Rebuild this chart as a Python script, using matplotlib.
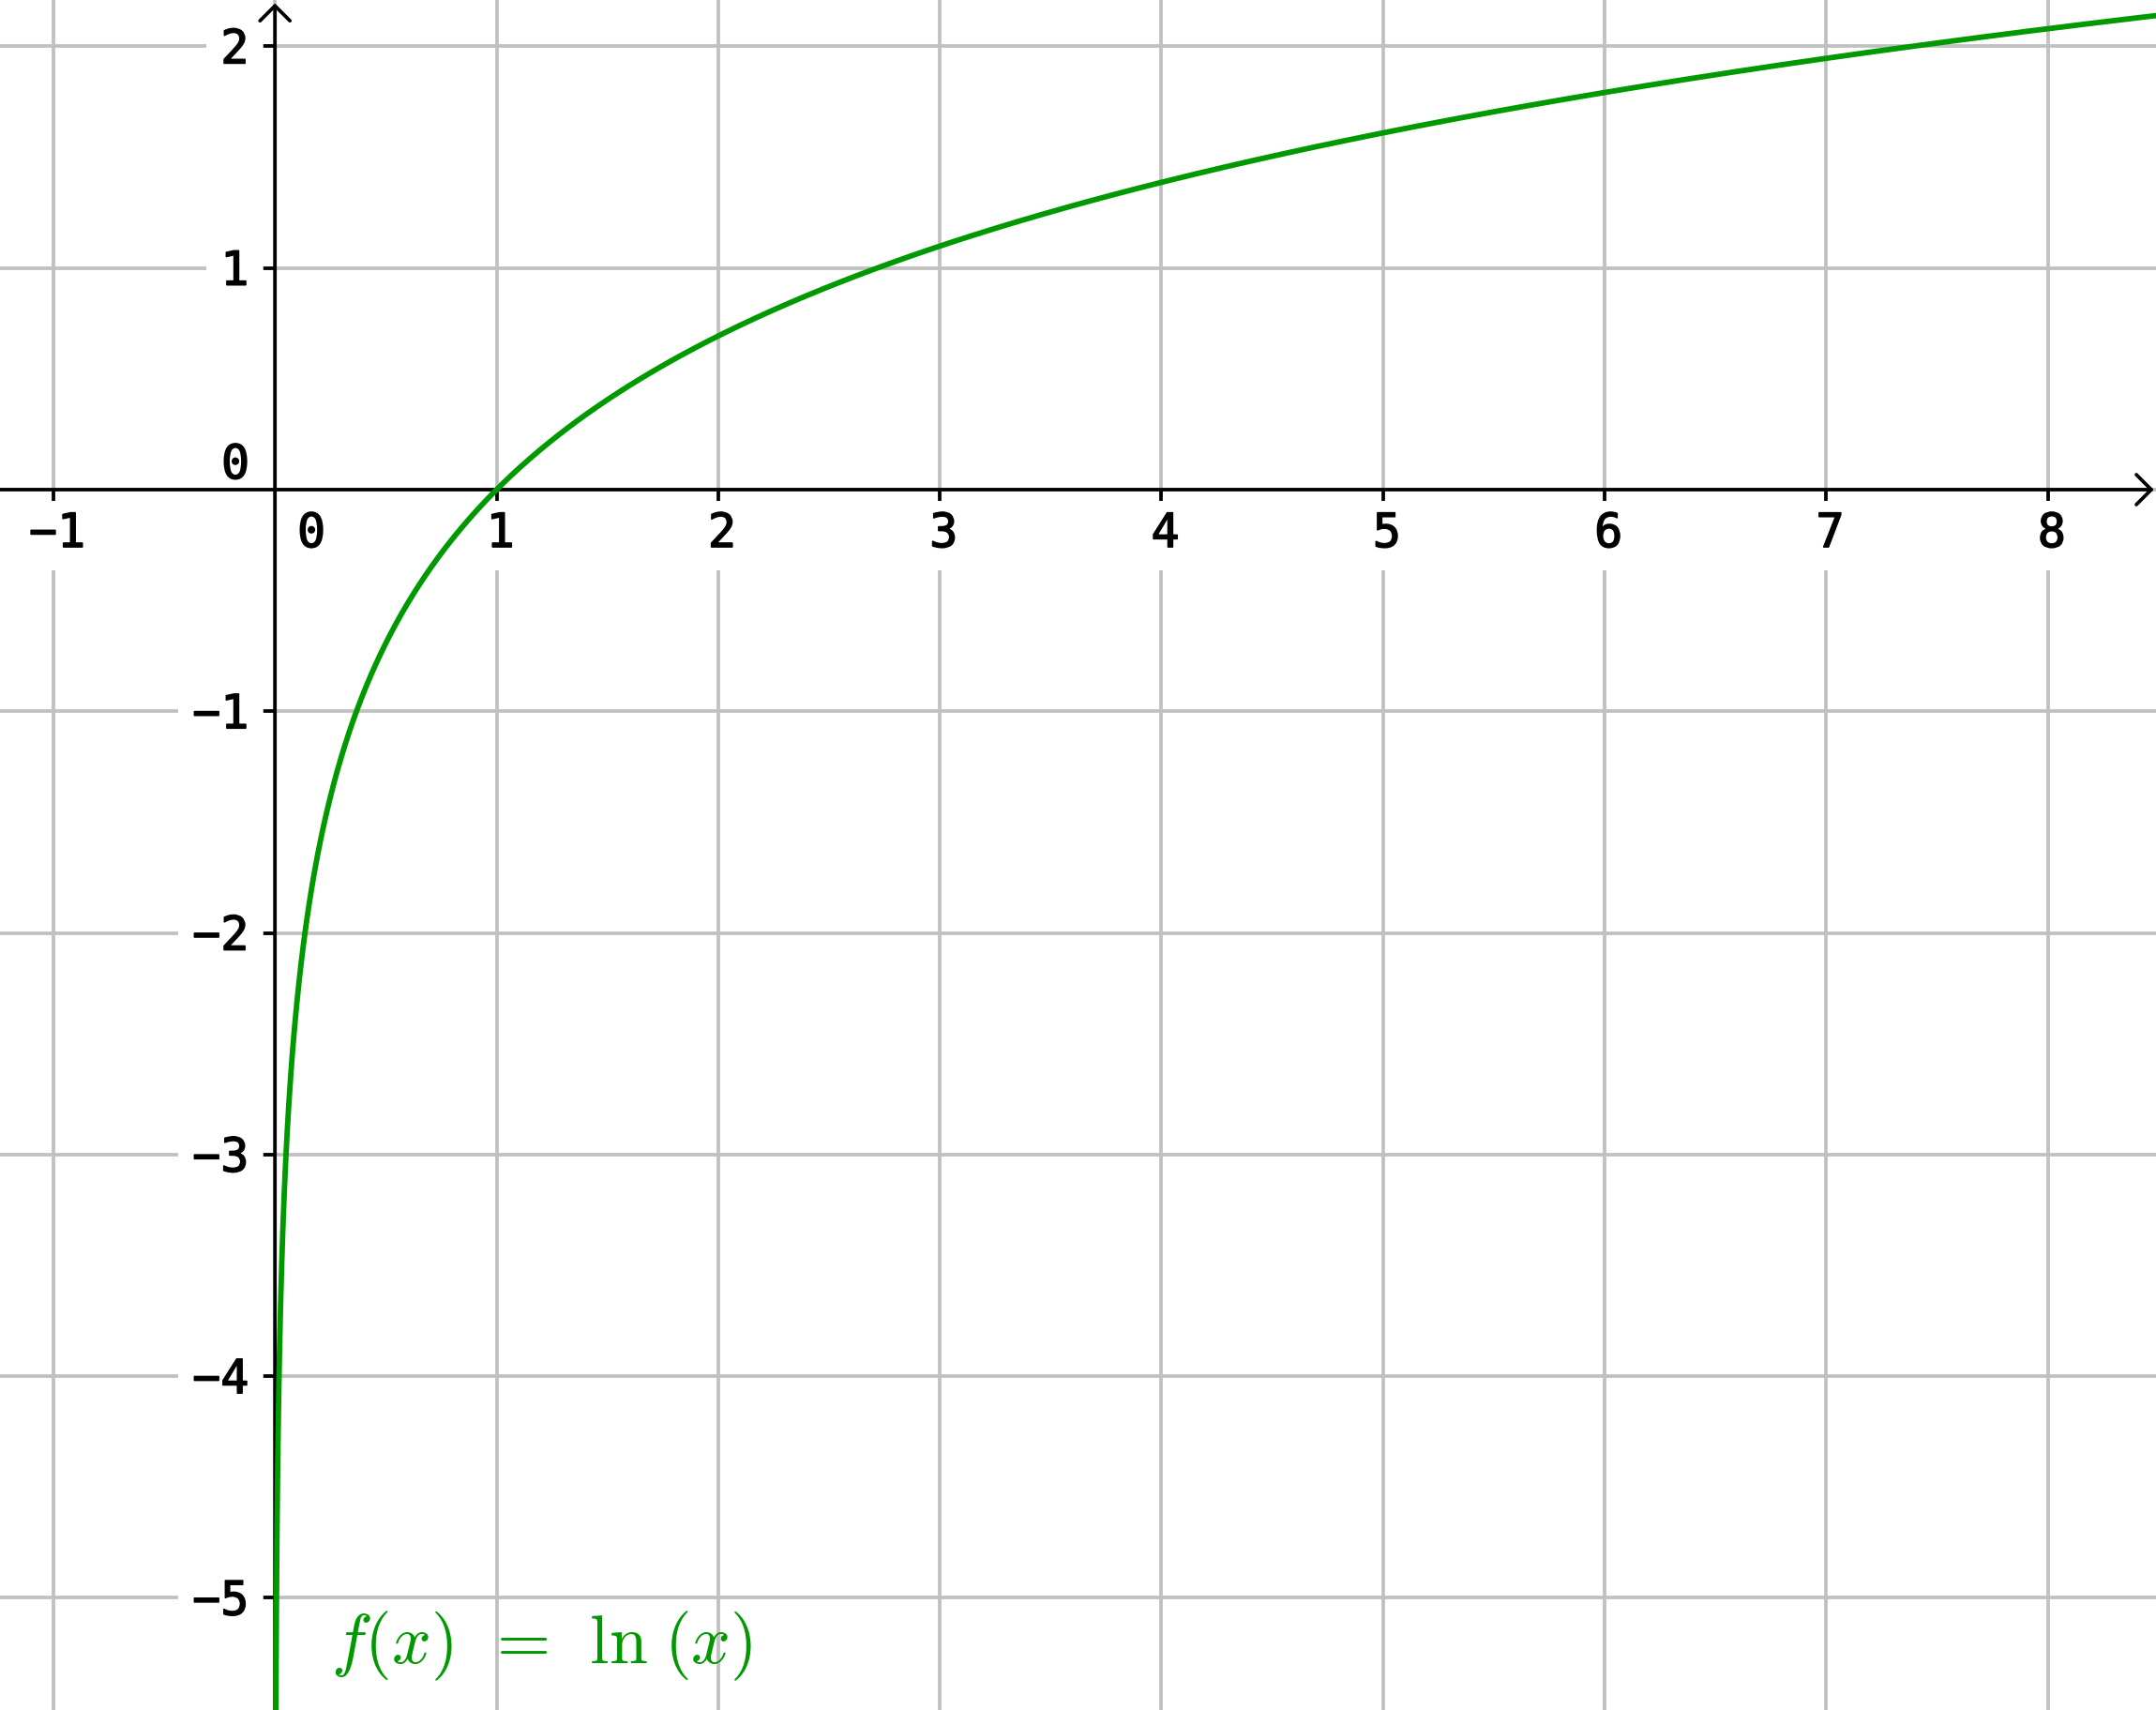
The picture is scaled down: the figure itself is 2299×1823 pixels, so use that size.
import numpy as np
import matplotlib
matplotlib.use("Agg")
import matplotlib.pyplot as plt
import matplotlib.patheffects as pe
from matplotlib.lines import TICKLEFT, TICKDOWN

# ranges and ticks
x_min, x_max = -1.2408, 8.488
y_min, y_max = -5.506, 2.209
x_ticks = [-1, 1, 2, 3, 4, 5, 6, 7, 8]
y_ticks = [-5, -4, -3, -2, -1, 1, 2]
grid_x = [-1, 0, 1, 2, 3, 4, 5, 6, 7, 8]
grid_y = [-5, -4, -3, -2, -1, 0, 1, 2]

# f(x) = ln(x), sampled from just right of the y axis to the right edge
x_start, x_end, n_pts = 0.004, 8.5, 3000

grid_col = "#c0c0c0"
curve_col = "#009900"
lab_font = "DejaVu Sans Mono"
lab_size = 36
# regular weight, thickened a little to match the medium look
lab_fx = [pe.withStroke(linewidth=1.1, foreground="black")]

plt.rcParams["mathtext.fontset"] = "cm"

fig = plt.figure(figsize=(22.99, 18.23), dpi=100)
ax = fig.add_axes([0, 0, 1, 1])
ax.set_xlim(x_min, x_max)
ax.set_ylim(y_min, y_max)
ax.axis("off")

# grid
for gx in grid_x:
    ax.axvline(gx, color=grid_col, lw=2.7, zorder=1)
for gy in grid_y:
    ax.axhline(gy, color=grid_col, lw=2.7, zorder=1)

# axes with open arrow heads
arrow = dict(arrowstyle="->,head_length=1.15,head_width=1.15", lw=2.7,
             color="black", shrinkA=0, shrinkB=0)
ax.annotate("", xy=(x_max - 0.01, 0), xytext=(x_min, 0),
            arrowprops=arrow, zorder=3, annotation_clip=False)
ax.annotate("", xy=(0, y_max - 0.015), xytext=(0, y_min),
            arrowprops=arrow, zorder=3, annotation_clip=False)

# tick marks
ax.plot(x_ticks, [0] * len(x_ticks), ls="none", marker=TICKDOWN,
        ms=8.6, mew=2.7, color="black", zorder=3, clip_on=False)
ax.plot([0] * len(y_ticks), y_ticks, ls="none", marker=TICKLEFT,
        ms=8.6, mew=2.7, color="black", zorder=3, clip_on=False)

box = dict(boxstyle="square,pad=0.3", fc="white", ec="none")

# x tick labels
for xv in x_ticks:
    ax.annotate(str(xv).replace("-", "\u2212"), xy=(xv, 0), xytext=(3, -44),
                textcoords="offset points", ha="center", va="baseline",
                fontsize=lab_size, family=lab_font, path_effects=lab_fx,
                bbox=box, zorder=2)
ax.annotate("0", xy=(0, 0), xytext=(28, -44), textcoords="offset points",
            ha="center", va="baseline", fontsize=lab_size, family=lab_font,
            path_effects=lab_fx, bbox=box, zorder=2)

# y tick labels
for yv in y_ticks:
    ax.annotate(str(yv).replace("-", "\u2212"), xy=(0, yv), xytext=(-20, -13),
                textcoords="offset points", ha="right", va="baseline",
                fontsize=lab_size, family=lab_font, path_effects=lab_fx,
                bbox=box, zorder=2)
ax.annotate("0", xy=(0, 0), xytext=(-19.5, 8.6), textcoords="offset points",
            ha="right", va="baseline", fontsize=lab_size, family=lab_font,
            path_effects=lab_fx, zorder=2)

# curve
xs = np.geomspace(x_start, x_end, n_pts)
ax.plot(xs, np.log(xs), color=curve_col, lw=4.2, zorder=4,
        solid_capstyle="butt")

ax.text(0.253, -5.294, r"$f(x)\:\:=\:\:\ln\hspace{0.12}(x)$", color=curve_col,
        fontsize=53, ha="left", va="baseline", zorder=4)

fig.savefig("out.png", dpi=100)
